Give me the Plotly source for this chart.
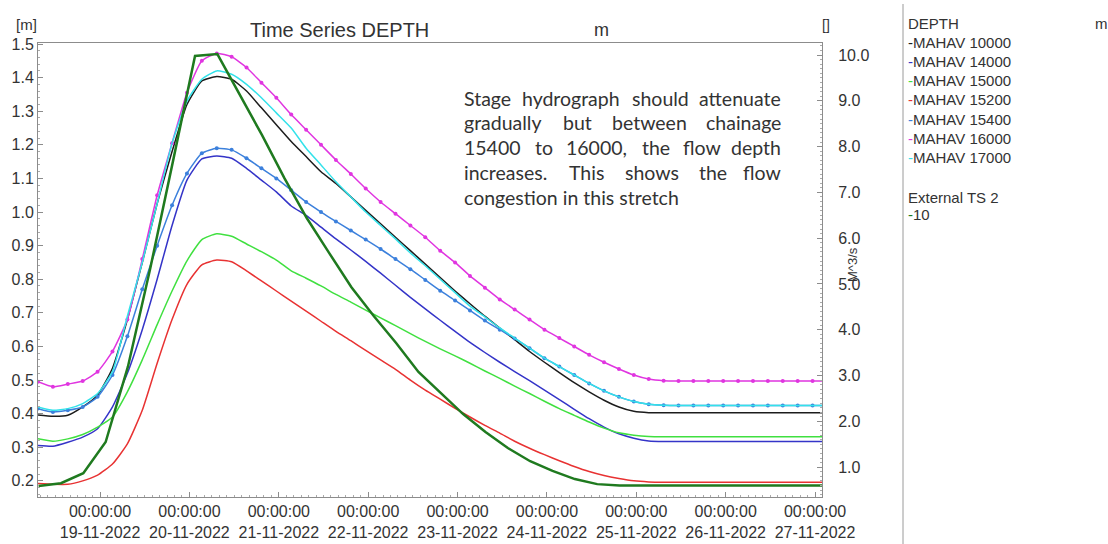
import plotly.graph_objects as go
import pandas as pd

# ---------------- data ----------------
depth_times = pd.date_range("2022-11-18 07:20", periods=54, freq="4h")
ext_times = pd.date_range("2022-11-18 07:30", periods=37, freq="6h")

mahav_10000 = [0.396, 0.392, 0.395, 0.42, 0.455, 0.535, 0.68, 0.85, 1.025, 1.18, 1.32, 1.39, 1.403, 1.395,
               1.36, 1.31, 1.26, 1.21, 1.165, 1.12, 1.085, 1.045, 1.005, 0.965, 0.925, 0.885, 0.845, 0.805,
               0.765, 0.727, 0.69, 0.655, 0.62, 0.585, 0.553, 0.522, 0.492, 0.465, 0.44, 0.42, 0.407, 0.403,
               0.403, 0.403, 0.403, 0.403, 0.403, 0.403, 0.403, 0.403, 0.403, 0.403, 0.403, 0.403]
mahav_14000 = [0.305, 0.303, 0.315, 0.33, 0.355, 0.42, 0.52, 0.65, 0.80, 0.96, 1.095, 1.158, 1.167, 1.16,
               1.13, 1.095, 1.06, 1.018, 0.99, 0.955, 0.92, 0.887, 0.853, 0.818, 0.782, 0.746, 0.712, 0.678,
               0.645, 0.612, 0.582, 0.553, 0.525, 0.498, 0.47, 0.442, 0.413, 0.385, 0.36, 0.34, 0.327, 0.319,
               0.317, 0.317, 0.317, 0.317, 0.317, 0.317, 0.317, 0.317, 0.317, 0.317, 0.317, 0.317]
mahav_15000 = [0.325, 0.318, 0.325, 0.338, 0.36, 0.39, 0.465, 0.56, 0.665, 0.765, 0.855, 0.918, 0.935, 0.928,
               0.905, 0.882, 0.857, 0.825, 0.803, 0.78, 0.755, 0.732, 0.708, 0.685, 0.662, 0.638, 0.615, 0.593,
               0.572, 0.55, 0.527, 0.505, 0.482, 0.46, 0.437, 0.415, 0.395, 0.375, 0.357, 0.343, 0.336, 0.332,
               0.331, 0.331, 0.331, 0.331, 0.331, 0.331, 0.331, 0.331, 0.331, 0.331, 0.331, 0.331]
mahav_15200 = [0.192, 0.19, 0.19, 0.2, 0.217, 0.25, 0.31, 0.41, 0.55, 0.68, 0.785, 0.843, 0.857, 0.852,
               0.825, 0.795, 0.765, 0.735, 0.705, 0.675, 0.645, 0.617, 0.588, 0.56, 0.532, 0.50, 0.47, 0.443,
               0.416, 0.39, 0.365, 0.342, 0.318, 0.297, 0.278, 0.26, 0.243, 0.228, 0.216, 0.207, 0.2, 0.197,
               0.196, 0.196, 0.196, 0.196, 0.196, 0.196, 0.196, 0.196, 0.196, 0.196, 0.196, 0.196]
mahav_15400 = [0.415, 0.405, 0.41, 0.42, 0.45, 0.515, 0.63, 0.77, 0.90, 1.02, 1.115, 1.175, 1.19, 1.185,
               1.16, 1.13, 1.10, 1.065, 1.03, 1.00, 0.972, 0.945, 0.918, 0.89, 0.86, 0.83, 0.798, 0.766,
               0.737, 0.707, 0.677, 0.65, 0.624, 0.595, 0.565, 0.54, 0.515, 0.49, 0.468, 0.45, 0.436, 0.428,
               0.425, 0.424, 0.424, 0.424, 0.424, 0.424, 0.424, 0.424, 0.424, 0.424, 0.424, 0.424]
mahav_16000 = [0.495, 0.48, 0.488, 0.497, 0.525, 0.585, 0.68, 0.86, 1.05, 1.205, 1.355, 1.45, 1.472, 1.462,
               1.43, 1.385, 1.34, 1.29, 1.245, 1.20, 1.155, 1.113, 1.07, 1.03, 0.995, 0.96, 0.925, 0.885,
               0.85, 0.81, 0.775, 0.74, 0.71, 0.68, 0.65, 0.625, 0.60, 0.575, 0.553, 0.533, 0.515, 0.503,
               0.498, 0.497, 0.497, 0.497, 0.497, 0.497, 0.497, 0.497, 0.497, 0.497, 0.497, 0.497]
mahav_17000 = [0.42, 0.41, 0.415, 0.43, 0.46, 0.525, 0.69, 0.85, 1.025, 1.205, 1.33, 1.395, 1.42, 1.41,
               1.38, 1.34, 1.295, 1.25, 1.19, 1.14, 1.09, 1.045, 1.0, 0.96, 0.92, 0.878, 0.84, 0.80,
               0.76, 0.72, 0.688, 0.655, 0.625, 0.595, 0.565, 0.54, 0.515, 0.49, 0.468, 0.45, 0.436, 0.428,
               0.425, 0.424, 0.424, 0.424, 0.424, 0.424, 0.424, 0.424, 0.424, 0.424, 0.424, 0.424]
external_ts2_10 = [0.59, 0.65, 0.87, 1.55, 3.2, 5.35, 7.65, 9.98, 10.02, 9.15, 8.25, 7.31, 6.44, 5.68,
                   4.93, 4.30, 3.71, 3.08, 2.62, 2.16, 1.77, 1.42, 1.13, 0.92, 0.74, 0.63, 0.60,
                   0.60, 0.60, 0.60, 0.60, 0.60, 0.60, 0.60, 0.60, 0.60, 0.60]

depth_names = ["MAHAV 10000", "MAHAV 14000", "MAHAV 15000", "MAHAV 15200",
               "MAHAV 15400", "MAHAV 16000", "MAHAV 17000"]
tick_dates = ["2022-11-%02d" % d for d in range(19, 28)]
tick_text = ["00:00:00<br>%s-11-2022" % d[-2:] for d in tick_dates]
note_text = ("Stage hydrograph should attenuate gradually but between chainage 15400 to 16000, "
             "the flow depth increases. This shows the flow congestion in this stretch")

# ---------------- style ----------------
W, H = 1108, 544
L, R, T, B = 38, 822, 43, 497
FONT = "Liberation Sans, Arial, sans-serif"
TXT = "#333333"
AX = "#8c8c8c"

series = [mahav_10000, mahav_14000, mahav_15000, mahav_15200, mahav_15400, mahav_16000, mahav_17000]
colors = ["#1c1c1c", "#3434c8", "#40e040", "#e83232", "#3c80dc", "#e035e0", "#33e2ea"]
markers = [False, False, False, False, True, True, False]
ext_color = "#1f7a1f"

fig = go.Figure()
for name, vals, col, mk in zip(depth_names, series, colors, markers):
    fig.add_trace(go.Scatter(
        x=depth_times, y=vals, name=name,
        mode="lines+markers" if mk else "lines",
        line=dict(color=col, width=1.5, shape="spline", smoothing=0.5),
        marker=dict(size=4, color=col),
        yaxis="y", showlegend=False))
fig.add_trace(go.Scatter(
    x=ext_times, y=external_ts2_10, name="10", mode="lines",
    line=dict(color=ext_color, width=2.5), yaxis="y2", showlegend=False))


def px(x):
    return (x - L) / (R - L)


def py(y):
    return (B - y) / (B - T)


ann = []


def text(x, y, s, size=15, xanchor="left", family=FONT, color=TXT, angle=0):
    ann.append(dict(x=px(x), y=py(y), xref="paper", yref="paper", text=s, showarrow=False,
                    xanchor=xanchor, yanchor="middle", textangle=angle,
                    font=dict(family=family, size=size, color=color)))


# titles / axis units
text(248, 30, "Time Series DEPTH", size=20)
text(601, 30, "m", size=18, xanchor="center")
text(14, 24, "[m]", size=15)
text(820, 25, "[]", size=14)
text(852, 265, "M^3/s", size=13, xanchor="center", angle=-90)

# ---- justified paragraph (Lato metrics approximated per character) ----
NOTE_FONT = "Lato, Open Sans, sans-serif"
NOTE_SIZE = 19.5
CW = {c: 0.56 for c in "bdhnopqu"}
CW.update({"a": 0.51, "c": 0.46, "e": 0.53, "f": 0.32, "g": 0.50, "i": 0.24, "j": 0.24, "k": 0.49,
           "l": 0.24, "m": 0.84, "r": 0.36, "s": 0.42, "t": 0.34, "v": 0.49, "w": 0.74, "x": 0.48,
           "y": 0.49, "z": 0.44, "S": 0.51, "T": 0.53, ",": 0.22, ".": 0.22, " ": 0.19})


def wwidth(w):
    return sum(CW.get(c, 0.58) for c in w) * NOTE_SIZE * 1.03


x0, x1 = 462, 783
note_y = [98, 122, 147, 172, 197]
words = note_text.split()
lines, cur = [], []
for w in words:
    trial = cur + [w]
    if cur and sum(wwidth(t) for t in trial) + wwidth(" ") * (len(trial) - 1) > (x1 - x0):
        lines.append(cur)
        cur = [w]
    else:
        cur = trial
lines.append(cur)
for li, (ws, yy) in enumerate(zip(lines, note_y)):
    if li == len(lines) - 1:
        text(x0, yy, " ".join(ws), size=NOTE_SIZE, family=NOTE_FONT)
        continue
    widths = [wwidth(w) for w in ws]
    gap = (x1 - x0 - sum(widths)) / (len(ws) - 1)
    cx = x0
    for i, w in enumerate(ws):
        if i == len(ws) - 1:
            text(x1, yy, w, size=NOTE_SIZE, xanchor="right", family=NOTE_FONT)
        else:
            text(cx, yy, w, size=NOTE_SIZE, xanchor="left", family=NOTE_FONT)
        cx += widths[i] + gap

# legend panel
text(906, 23, "DEPTH", size=15)
text(1093, 23, "m", size=15)
for k, (name, col) in enumerate(zip(depth_names, colors)):
    text(906, 42 + k * 19.3, "<span style='color:%s'>-</span>%s" % (col, name), size=15)
text(906, 197, "External TS 2", size=15)
text(906, 215, "<span style='color:%s'>-</span>10" % ext_color, size=15)

shapes = [dict(type="line", xref="paper", yref="paper", x0=px(903), x1=px(903), y0=py(4), y1=py(544),
               line=dict(color="#9a9a9a", width=1))]

axis_common = dict(showgrid=False, zeroline=False, showline=True, linecolor=AX, linewidth=1,
                   automargin=False,
                   tickfont=dict(family=FONT, size=16, color=TXT), tickcolor=AX)

fig.update_layout(
    width=W, height=H,
    margin=dict(l=L, r=W - R, t=T, b=H - B, pad=0, autoexpand=False),
    paper_bgcolor="white", plot_bgcolor="white",
    showlegend=False,
    annotations=ann, shapes=shapes,
    xaxis=dict(type="date", range=["2022-11-18 07:20", "2022-11-27 01:52"],
               tickvals=tick_dates, ticktext=tick_text, ticks="inside", ticklen=5,
               mirror=True,
               minor=dict(dtick=2 * 3600 * 1000, ticks="inside", ticklen=2, tickcolor="#aaaaaa"),
               **axis_common),
    yaxis=dict(range=[0.152, 1.503], dtick=0.1, tick0=0, tickformat=".1f", ticks="inside", ticklen=5,
               minor=dict(dtick=0.02, ticks="inside", ticklen=2, tickcolor="#aaaaaa"),
               **axis_common),
    yaxis2=dict(overlaying="y", side="right", range=[0.349, 10.262], dtick=1, tick0=0, tickformat=".1f",
                ticks="inside", ticklen=5, ticklabelstandoff=12,
                minor=dict(dtick=0.1, ticks="inside", ticklen=2, tickcolor="#aaaaaa"),
                **axis_common),
)

fig.write_html("out.html")
